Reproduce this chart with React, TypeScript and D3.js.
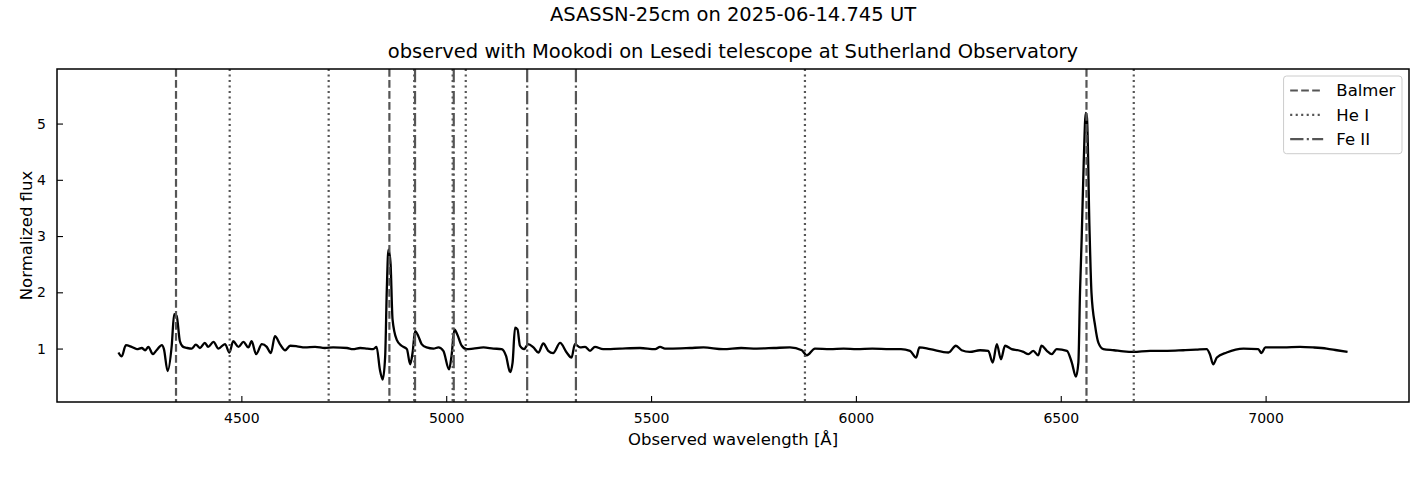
import { FC, useEffect, useRef } from 'react';
import * as d3 from 'd3';

// spectrum (observed wavelength in Angstrom, normalized flux)
const wavelength = [
  4200, 4208, 4218, 4232, 4245, 4257, 4265, 4273, 4284, 4293, 4306, 4311, 4320, 4330, 4336, 4342, 4350,
  4358, 4368, 4379, 4389, 4399, 4411, 4419, 4432, 4444, 4460, 4471, 4480, 4493, 4505, 4517, 4525, 4536,
  4550, 4562, 4572, 4582, 4594, 4607, 4619, 4636, 4655, 4680, 4704, 4724, 4758, 4772, 4790, 4807, 4822,
  4830, 4838, 4845, 4851, 4855, 4859, 4864, 4869, 4879, 4891, 4904, 4912, 4918, 4924, 4932, 4940, 4952,
  4969, 4981, 4993, 5007, 5013, 5020, 5027, 5038, 5050, 5066, 5091, 5115, 5135, 5146, 5156, 5162, 5168,
  5174, 5180, 5190, 5200, 5213, 5225, 5237, 5249, 5261, 5278, 5294, 5306, 5314, 5327, 5339, 5351, 5363,
  5383, 5424, 5473, 5510, 5522, 5534, 5546, 5595, 5628, 5676, 5720, 5758, 5800, 5839, 5868, 5880, 5900,
  5937, 5970, 6002, 6040, 6083, 6110, 6132, 6147, 6155, 6181, 6226, 6244, 6258, 6278, 6303, 6323, 6334,
  6344, 6354, 6364, 6380, 6396, 6409, 6421, 6433, 6445, 6453, 6466, 6478, 6490, 6515, 6527, 6537, 6543,
  6547, 6551, 6556, 6561, 6564, 6570, 6575, 6584, 6592, 6604, 6630, 6653, 6677, 6718, 6760, 6799, 6830,
  6856, 6864, 6872, 6881, 6905, 6946, 6982, 6990, 6999, 7043, 7084, 7116, 7149, 7174, 7200,
];
const flux = [
  0.93, 0.86, 1.06, 1.03, 0.99, 1.01, 0.97, 1.03, 0.9, 0.97, 1.06, 0.99, 0.6, 1.05, 1.61, 1.58, 1.13,
  1.03, 1.01, 1.0, 1.07, 1.01, 1.1, 1.03, 1.12, 1.0, 1.08, 0.93, 1.13, 1.03, 1.12, 1.02, 1.13, 0.9,
  1.08, 1.03, 0.92, 1.22, 1.08, 0.97, 1.05, 1.04, 1.02, 1.03, 1.01, 1.02, 1.01, 0.99, 1.01, 1.0, 0.99,
  1.03, 0.63, 0.45, 0.86, 2.05, 2.76, 2.53, 1.52, 1.16, 1.05, 0.99, 0.72, 0.93, 1.31, 1.22, 1.08, 1.02,
  1.0, 1.02, 0.96, 0.63, 0.87, 1.34, 1.25, 1.05, 0.99, 1.0, 1.02, 1.0, 0.99, 0.87, 0.58, 0.75, 1.37,
  1.34, 1.05, 0.99, 1.08, 1.02, 0.93, 1.09, 0.96, 0.92, 1.1, 0.93, 0.84, 1.08, 1.02, 1.03, 0.96, 1.03,
  0.99, 1.0, 1.01, 0.99, 1.03, 1.0, 1.0, 1.01, 1.02, 0.99, 1.01, 1.0, 1.01, 1.02, 0.97, 0.88, 1.0,
  0.99, 1.0, 0.99, 1.0, 0.99, 0.99, 0.96, 0.84, 1.02, 0.99, 0.93, 1.05, 0.97, 0.94, 0.97, 0.96, 0.75,
  1.08, 0.81, 1.05, 0.99, 0.97, 0.94, 0.9, 0.96, 0.88, 1.05, 0.96, 0.9, 0.99, 0.96, 0.75, 0.5, 0.75,
  2.0, 2.94, 4.3, 5.19, 5.1, 3.18, 1.99, 1.4, 1.1, 0.99, 0.97, 0.95, 0.94, 0.96, 0.96, 0.97, 0.98,
  0.99, 0.9, 0.72, 0.84, 0.93, 1.0, 0.99, 0.92, 1.02, 1.02, 1.03, 1.02, 1.0, 0.97, 0.94,
];

const balmerLines = [4340.5, 4861.3, 6562.8];
const heILines = [4471.5, 4713.1, 4921.9, 5015.7, 5047.7, 5875.6, 6678.2];
const feIILines = [4923.9, 5018.4, 5197.6, 5316.6];

const xTicks = [4500, 5000, 5500, 6000, 6500, 7000];
const yTicks = [1, 2, 3, 4, 5];

const legendItems = [
  { label: 'Balmer', dash: '7.7,3.3' },
  { label: 'He I', dash: '2.1,3.4' },
  { label: 'Fe II', dash: '13.3,3.3,2.1,3.3' },
];

const FONT = 'DejaVu Sans, sans-serif';

const Spectrum: FC = () => {
  const ref = useRef<SVGSVGElement | null>(null);

  useEffect(() => {
    const svg = d3.select(ref.current);
    svg.selectAll('*').remove();

    const margin = { top: 69, right: 18, bottom: 75, left: 57 };
    const W = 1427;
    const H = 477;
    const width = W - margin.left - margin.right;
    const height = H - margin.top - margin.bottom;

    const x = d3.scaleLinear().domain([4050, 7350]).range([0, width]);
    const y = d3.scaleLinear().domain([0.05, 5.97]).range([height, 0]);

    svg.append('rect').attr('width', W).attr('height', H).attr('fill', 'white');

    // figure title (top line)
    svg
      .append('text')
      .attr('x', margin.left + width / 2)
      .attr('y', 21)
      .attr('text-anchor', 'middle')
      .attr('font-family', FONT)
      .attr('font-size', 19.5)
      .text('ASASSN-25cm on 2025-06-14.745 UT');

    const g = svg.append('g').attr('transform', `translate(${margin.left},${margin.top})`);

    g.append('defs')
      .append('clipPath')
      .attr('id', 'plot-clip')
      .append('rect')
      .attr('width', width)
      .attr('height', height);

    const pts = wavelength.map((w, i) => [w, flux[i]] as [number, number]);
    const line = d3
      .line<[number, number]>()
      .x(d => x(d[0]))
      .y(d => y(d[1]))
      .curve(d3.curveMonotoneX);

    const plot = g.append('g').attr('clip-path', 'url(#plot-clip)');

    plot
      .append('path')
      .datum(pts)
      .attr('d', line)
      .attr('fill', 'none')
      .attr('stroke', 'black')
      .attr('stroke-width', 2.3)
      .attr('stroke-linejoin', 'round');

    // line markers
    const drawLines = (vals: number[], dash: string) => {
      plot
        .selectAll(null)
        .data(vals)
        .enter()
        .append('line')
        .attr('x1', d => x(d))
        .attr('x2', d => x(d))
        .attr('y1', 0)
        .attr('y2', height)
        .attr('stroke', '#555555')
        .attr('stroke-width', 2.2)
        .attr('stroke-dasharray', dash);
    };
    drawLines(balmerLines, legendItems[0].dash);
    drawLines(heILines, legendItems[1].dash);
    drawLines(feIILines, legendItems[2].dash);

    // axes with inward ticks
    const xAxis = g
      .append('g')
      .attr('transform', `translate(0,${height})`)
      .call(
        d3.axisBottom(x).tickValues(xTicks).tickFormat(d3.format('d')).tickSizeInner(-6).tickSizeOuter(0).tickPadding(11)
      );
    const yAxis = g
      .append('g')
      .call(
        d3.axisLeft(y).tickValues(yTicks).tickFormat(d3.format('d')).tickSizeInner(-6).tickSizeOuter(0).tickPadding(11)
      );

    [xAxis, yAxis].forEach(a => {
      a.select('.domain').remove();
      a.selectAll('.tick line').attr('stroke', 'black').attr('stroke-width', 1.1);
      a.selectAll('text').attr('font-family', FONT).attr('font-size', 14).attr('fill', 'black');
    });

    g.append('rect')
      .attr('width', width)
      .attr('height', height)
      .attr('fill', 'none')
      .attr('stroke', 'black')
      .attr('stroke-width', 1.5);

    // labels
    g.append('text')
      .attr('x', width / 2)
      .attr('y', height + 43)
      .attr('text-anchor', 'middle')
      .attr('font-family', FONT)
      .attr('font-size', 16.5)
      .text('Observed wavelength [Å]');

    g.append('text')
      .attr('transform', `translate(${-25},${height / 2}) rotate(-90)`)
      .attr('text-anchor', 'middle')
      .attr('font-family', FONT)
      .attr('font-size', 16.5)
      .text('Normalized flux');

    g.append('text')
      .attr('x', width / 2)
      .attr('y', -11)
      .attr('text-anchor', 'middle')
      .attr('font-family', FONT)
      .attr('font-size', 19.5)
      .text('observed with Mookodi on Lesedi telescope at Sutherland Observatory');

    // legend, upper right
    const fs = 16.5;
    const pad = 0.4 * fs;
    const handleLen = 2 * fs;
    const textPad = 0.8 * fs;
    const rowH = 1.47 * fs;
    const legend = g.append('g');
    const box = legend.append('rect');
    const rows = legend.selectAll('g').data(legendItems).enter().append('g');
    rows
      .append('line')
      .attr('x1', 0)
      .attr('x2', handleLen)
      .attr('stroke', '#555555')
      .attr('stroke-width', 2.2)
      .attr('stroke-dasharray', d => d.dash);
    const texts = rows
      .append('text')
      .attr('x', handleLen + textPad)
      .attr('dy', '0.36em')
      .attr('font-family', FONT)
      .attr('font-size', fs)
      .text(d => d.label);
    let tw = 0;
    texts.each(function () {
      tw = Math.max(tw, (this as SVGTextElement).getComputedTextLength());
    });
    const boxW = pad + handleLen + textPad + tw + pad;
    const boxH = pad * 2 + 2 * rowH + 0.97 * fs;
    const bx = width - 7 - boxW;
    const by = 7;
    legend.attr('transform', `translate(${bx},${by})`);
    rows.attr('transform', (d, i) => `translate(${pad},${pad + 0.48 * fs + i * rowH})`);
    box
      .attr('width', boxW)
      .attr('height', boxH)
      .attr('rx', 3)
      .attr('fill', 'white')
      .attr('fill-opacity', 0.8)
      .attr('stroke', '#cccccc');
  }, []);

  return <svg ref={ref} width={1427} height={477} style={{ display: 'block' }} />;
};

const App: FC = () => (
  <div style={{ position: 'absolute', left: 0, top: 0 }}>
    <Spectrum />
  </div>
);

export default App;
